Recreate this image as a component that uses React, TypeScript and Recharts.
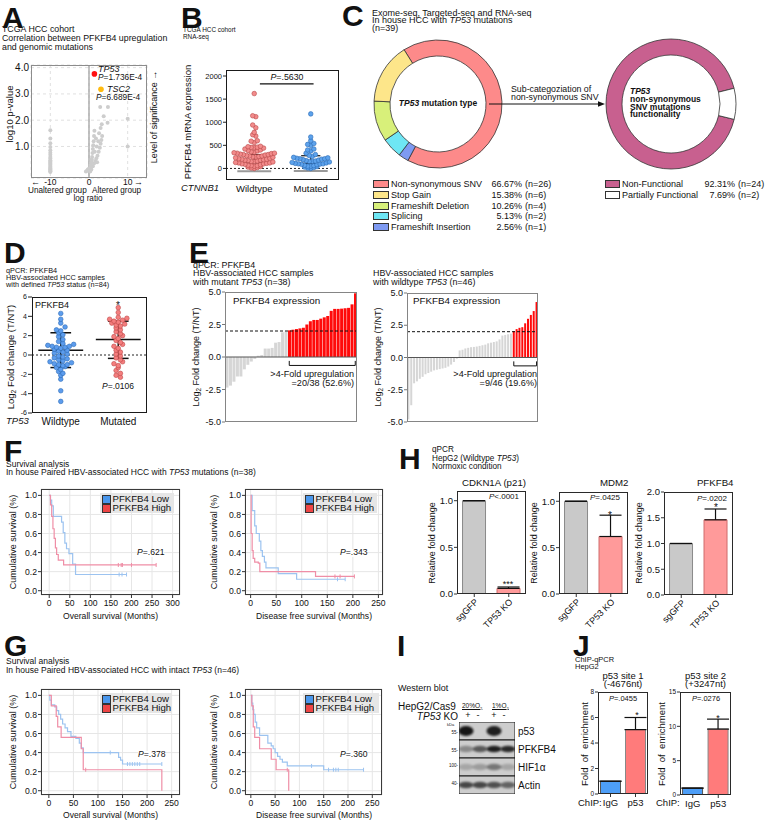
import React from "react";
import {
  ScatterChart,
  Scatter,
  BarChart,
  Bar,
  Cell,
  ErrorBar,
  PieChart,
  Pie,
  ComposedChart,
  Line,
  XAxis,
  YAxis,
  CartesianGrid,
  ReferenceLine,
  ReferenceArea,
} from "recharts";

const FONT = '"Liberation Sans", Arial, Helvetica, sans-serif';
const INK = "#111";

// ---- A: TCGA volcano (log ratio vs -log10 p) ----
const aColumnLogRatio = -10;
const aColumnP = [1.62, 1.3, 1.12, 0.98, 0.86, 0.76, 0.68, 0.6, 0.54, 0.48, 0.43, 0.38, 0.34, 0.3, 0.26, 0.22, 0.18, 0.15, 0.12, 0.09, 0.06, 0.03];
const aClusterLogRatio = [-0.8, -0.5, -0.3, 0, 0.2, 0.4, 0.5, 0.6, 0.7, 0.8, 0.9, 1.0, 1.1, 1.2, 1.3, 1.4, 1.0, 1.3, 1.6, 1.9, 2.2, 2.5, 2.8, 3.0, 3.2, 3.4, 2.0, 2.4, 1.8, 2.6, 3.0, 3.3, 3.8, 4.8, 2.9, 4.9, 10, 10, 0.3, 0.6, 1.5, 2.1];
const aClusterP = [0.05, 0.08, 0.12, 0.15, 0.1, 0.2, 0.3, 0.4, 0.5, 0.6, 0.75, 0.9, 1.05, 1.2, 1.4, 1.6, 0.25, 0.35, 0.45, 0.55, 0.65, 0.8, 0.95, 1.1, 1.25, 1.4, 1.0, 1.2, 1.3, 1.5, 1.7, 1.85, 2.15, 1.9, 2.5, 2.5, 2.05, 1.0, 0.05, 0.12, 0.8, 0.4];
const aHitGenes = ["TP53", "TSC2"];
const aHitLogRatio = [1.4, 3.1];
const aHitP = [1.736e-4, 6.689e-4];

// ---- B: CTNNB1 ----
const bGroups = ["Wildtype", "Mutated"];
const bWildtype = [1620, 1140, 1120, 940, 880, 780, 730, 700, 600, 590, 560, 480, 470, 460, 455, 450, 440, 420, 400, 390, 380, 360, 350, 340, 330, 330, 320, 310, 300, 300, 290, 280, 270, 270, 260, 250, 250, 240, 230, 220, 210, 200, 200, 190, 180, 180, 170, 160, 150, 150, 140, 130, 120, 120, 110, 100, 100, 90, 80, 70, 60, 60, 50, 40, 30, 20, 10, 0];
const bMutated = [1180, 680, 600, 540, 520, 500, 420, 400, 380, 330, 300, 280, 260, 240, 230, 220, 210, 210, 200, 190, 180, 170, 160, 150, 150, 140, 130, 120, 110, 100, 100, 95, 90, 80, 70, 60, 50, 50, 40, 30, 20, 10, 0];
const bMean = [120, 110];
const bSdHigh = [300, 275];
const bSdLow = [-60, -55];

// ---- C: mutation types ----
const cTypes = ["Non-synonymous SNV", "Stop Gain", "Frameshift Deletion", "Splicing", "Frameshift Insertion"];
const cCounts = [26, 6, 4, 2, 1];
const cTotal = 39;
const cPieOrder = [0, 4, 3, 2, 1];
const cFunc = ["Non-Functional", "Partially Functional"];
const cFuncCounts = [24, 2];

// ---- D: qPCR by TP53 status ----
const dGroups = ["Wildtype", "Mutated"];
const dWildtype = [4.3, 3.7, 3.3, 2.9, 2.6, 2.5, 2.3, 2.1, 1.9, 1.6, 1.4, 1.2, 1.1, 1.0, 0.9, 0.9, 0.8, 0.8, 0.7, 0.6, 0.5, 0.4, 0.3, 0.2, 0.1, -0.1, -0.2, -0.3, -0.4, -0.5, -0.6, -0.7, -0.8, -0.9, -1.0, -1.0, -1.1, -1.2, -1.3, -1.5, -1.7, -1.9, -2.1, -2.5, -3.7, -4.8];
const dMutated = [4.9, 4.4, 3.9, 3.8, 3.7, 3.6, 3.5, 3.4, 3.3, 3.2, 3.1, 3.0, 2.8, 2.6, 2.4, 2.2, 2.0, 1.9, 1.7, 1.5, 1.3, 1.1, 0.9, 0.7, 0.5, 0.3, 0.1, -0.1, -0.3, -0.5, -0.7, -0.9, -1.1, -1.3, -1.6, -1.9, -2.1, -2.3];
const dMean = [0.5, 1.6];
const dSdHigh = [2.3, 3.5];
const dSdLow = [-1.3, -0.35];

// ---- E: waterfalls ----
const eMutant = [-2.35, -2.2, -1.9, -1.5, -1.5, -0.95, -0.6, -0.35, -0.15, 0.1, 0.15, 0.65, 0.65, 0.7, 1.1, 1.15, 1.9, 1.95, 2.05, 2.1, 2.15, 2.2, 2.25, 2.5, 2.75, 2.85, 2.85, 2.95, 3.05, 3.15, 3.55, 3.7, 3.7, 3.72, 3.75, 3.78, 4.05, 4.9];
const eWildtype = [-4.8, -3.7, -2.0, -1.85, -1.65, -1.5, -1.3, -1.2, -1.1, -1.0, -0.95, -0.9, -0.85, -0.8, -0.7, -0.55, -0.35, -0.1, 0.55, 0.6, 0.7, 0.75, 0.8, 0.82, 0.85, 0.9, 0.95, 1.0, 1.1, 1.15, 1.2, 1.25, 1.4, 1.7, 1.75, 1.8, 1.85, 2.05, 2.2, 2.3, 2.35, 2.65, 3.0, 3.3, 3.6, 4.3];
const eThreshold = 2;

// ---- F / G: Kaplan-Meier ----
const fOsLowT = [0, 3, 6, 10, 30, 34, 38, 42, 48, 57, 64, 188];
const fOsLowS = [1, 0.95, 0.89, 0.78, 0.72, 0.61, 0.5, 0.44, 0.39, 0.28, 0.17, 0.17];
const fOsLowCens = [170, 177, 188];
const fOsHighT = [0, 3, 6, 9, 12, 15, 18, 22, 35, 260];
const fOsHighS = [1, 0.9, 0.78, 0.65, 0.55, 0.45, 0.38, 0.32, 0.27, 0.27];
const fOsHighCens = [168, 175, 178, 200, 260];

const fDfsLowT = [0, 3, 8, 11, 17, 20, 23, 27, 30, 54, 90, 185];
const fDfsLowS = [1, 0.84, 0.68, 0.6, 0.52, 0.42, 0.36, 0.3, 0.24, 0.18, 0.12, 0.12];
const fDfsLowCens = [170, 185];
const fDfsHighT = [0, 1, 3, 5, 8, 15, 18, 127, 203];
const fDfsHighS = [1, 0.6, 0.42, 0.34, 0.3, 0.29, 0.2, 0.15, 0.15];
const fDfsHighCens = [165, 175, 203];

const gOsLowT = [0, 2, 5, 12, 16, 20, 24, 28, 33, 38, 45, 55, 62, 66, 70, 142, 146, 150, 230];
const gOsLowS = [1, 0.95, 0.9, 0.88, 0.84, 0.8, 0.75, 0.7, 0.66, 0.62, 0.57, 0.55, 0.5, 0.45, 0.4, 0.35, 0.32, 0.28, 0.28];
const gOsLowCens = [125, 160, 165, 170, 175, 180, 185, 230];
const gOsHighT = [0, 5, 15, 18, 25, 66, 70, 230];
const gOsHighS = [1, 0.89, 0.78, 0.67, 0.56, 0.44, 0.22, 0];
const gOsHighCens = [75];

const gDfsLowT = [0, 2, 4, 6, 9, 12, 18, 35, 42, 46, 50, 55, 60, 65, 75, 150, 232];
const gDfsLowS = [1, 0.92, 0.85, 0.8, 0.72, 0.66, 0.58, 0.5, 0.47, 0.44, 0.4, 0.36, 0.33, 0.3, 0.26, 0.22, 0.22];
const gDfsLowCens = [125, 160, 170, 175, 180, 232];
const gDfsHighT = [0, 2, 5, 8, 18, 42, 52, 78];
const gDfsHighS = [1, 0.89, 0.67, 0.56, 0.44, 0.33, 0.22, 0];
const gDfsHighCens = [75];

const kmLegend = ["PFKFB4 Low", "PFKFB4 High"];

// ---- H: qPCR in HepG2 ----
const hGroups = ["sgGFP", "TP53 KO"];
const hCdkn = [1.0, 0.06];
const hCdknErr = [0, 0.015];
const hMdm2 = [1.0, 0.62];
const hMdm2Err = [0, 0.23];
const hPfk = [1.0, 1.46];
const hPfkErr = [0, 0.21];

// ---- I: western blot band intensity (0-1) ----
const iRows = ["p53", "PFKFB4", "HIF1α", "Actin"];
const iLanes = ["+", "-", "+", "-"];
const iBands = [
  [0.95, 0, 0.9, 0],
  [0.35, 0.6, 0.9, 0.85],
  [0.2, 0.25, 0.45, 0.2],
  [0.7, 0.7, 0.65, 0.55],
];

// ---- J: ChIP-qPCR ----
const jGroups = ["IgG", "p53"];
const jSite1 = [1.0, 5.05];
const jSite1Err = [0, 0.95];
const jSite2 = [1.0, 9.6];
const jSite2Err = [0, 1.45];

type Fr = { l: number; t: number; r: number; b: number };

function place(f: Fr, yw: number, xh: number, mt = 5, mr = 5, mb = 0) {
  return {
    style: { position: "absolute", left: f.l - yw, top: f.t - mt } as React.CSSProperties,
    width: yw + f.r - f.l + mr,
    height: mt + f.b - f.t + xh + mb,
    margin: { top: mt, right: mr, bottom: mb, left: 0 },
  };
}

// text placed by its baseline (y); lh = line-height factor
function Txt({ x, y, s = 9, b, i, a = "left", bg, lh = 0.9, children }: any) {
  const tx = a === "center" ? "-50%" : a === "right" ? "-100%" : "0";
  const top = y - ((lh - 1.117) / 2 + 0.905) * s;
  return (
    <div
      style={{
        position: "absolute",
        left: x,
        top,
        fontSize: s,
        lineHeight: lh,
        fontWeight: b ? 700 : 400,
        fontStyle: i ? "italic" : "normal",
        whiteSpace: "nowrap",
        transform: `translateX(${tx})`,
        background: bg,
      }}
    >
      {children}
    </div>
  );
}

function VTxt({ cx, cy, s = 9, children }: any) {
  return (
    <div
      style={{
        position: "absolute",
        left: cx,
        top: cy,
        fontSize: s,
        lineHeight: 0.9,
        whiteSpace: "nowrap",
        transform: "translate(-50%,-50%) rotate(-90deg)",
      }}
    >
      {children}
    </div>
  );
}

function Letter({ x, y, children }: any) {
  return (
    <Txt x={x} y={y} s={30} b lh={0.74}>
      {children}
    </Txt>
  );
}

function Box({ l, t, r, b, c = "#222", w = 1.3 }: any) {
  return (
    <div
      style={{
        position: "absolute",
        left: l,
        top: t,
        width: r - l,
        height: b - t,
        border: `${w}px solid ${c}`,
        boxSizing: "border-box",
        pointerEvents: "none",
      }}
    />
  );
}

const Log2 = () => (
  <>
    Log<span style={{ fontSize: "0.7em", verticalAlign: "-0.25em" }}>2</span> Fold change (T/NT)
  </>
);

const dot = (r: number, fill: string, stroke: string, sw = 0.6) => (p: any) => (
  <circle cx={p.cx} cy={p.cy} r={r} fill={fill} stroke={stroke} strokeWidth={sw} />
);

// simple beeswarm: points of similar value are spread sideways around the group centre
function swarm(vals: number[], center: number, bin: number, step: number) {
  const sorted = [...vals].sort((a, b) => a - b);
  const counts: Record<number, number> = {};
  const seen: Record<number, number> = {};
  sorted.forEach((v) => {
    const k = Math.round(v / bin);
    counts[k] = (counts[k] || 0) + 1;
  });
  return sorted.map((v) => {
    const k = Math.round(v / bin);
    const i = seen[k] || 0;
    seen[k] = i + 1;
    const n = counts[k];
    const off = i % 2 === 0 ? i / 2 : -(i + 1) / 2;
    const shift = n % 2 === 0 ? 0.5 : 0;
    return { x: center + (off + shift) * step, y: v };
  });
}

function PanelA() {
  const fr = { l: 31, t: 65, r: 147, b: 178 };
  const p = place(fr, 28, 16);
  const grey = [
    ...aColumnP.map((y) => ({ x: aColumnLogRatio, y })),
    ...aClusterLogRatio.map((x, i) => ({ x, y: aClusterP[i] })),
  ];
  const hits = aHitGenes.map((g, i) => ({ x: aHitLogRatio[i], y: -Math.log10(aHitP[i]), g }));
  return (
    <>
      <Letter x={2} y={28}>A</Letter>
      <Txt x={2} y={33.5} s={8.8}>TCGA HCC cohort</Txt>
      <Txt x={2} y={42.5} s={8.8}>Correlation between PFKFB4 upregulation</Txt>
      <Txt x={2} y={51.3} s={8.8}>and genomic mutations</Txt>
      <div style={p.style}>
        <ScatterChart width={p.width} height={p.height} margin={p.margin}>
          <CartesianGrid strokeDasharray="3 3" stroke="#e0e0e0" />
          <XAxis type="number" dataKey="x" domain={[-15, 15]} ticks={[-10, 0, 10]} interval={0} allowDataOverflow axisLine={false} tickLine={false} tickSize={0} tickMargin={1} height={16} tick={{ fontSize: 8.5, fill: INK }} />
          <YAxis type="number" dataKey="y" domain={[-0.2, 4.1]} ticks={[1, 2, 3, 4]} interval={0} allowDataOverflow tickFormatter={(v: number) => v.toFixed(1)} axisLine={false} tickLine={false} tickSize={0} tickMargin={2} width={28} tick={{ fontSize: 10, fill: INK }} />
          <ReferenceLine x={0} stroke="#9a9a9a" strokeWidth={1.2} />
          <Scatter data={grey} isAnimationActive={false} shape={dot(2, "#cdcdcd", "none", 0)} />
          <Scatter data={[hits[0]]} isAnimationActive={false} shape={dot(2.8, "#ff1010", "none", 0)} />
          <Scatter data={[hits[1]]} isAnimationActive={false} shape={dot(2.8, "#ffbb10", "none", 0)} />
        </ScatterChart>
      </div>
      <Box {...fr} c="#8c8c8c" w={1.2} />
      <Txt x={98} y={72.5} s={9} i>{aHitGenes[0]}</Txt>
      <Txt x={98} y={81} s={8.3}><i>P</i>=1.736E-4</Txt>
      <Txt x={107} y={91.7} s={9} i>{aHitGenes[1]}</Txt>
      <Txt x={96} y={100.7} s={8.3}><i>P</i>=6.689E-4</Txt>
      <VTxt cx={10} cy={114} s={9.5}>log10 p-value</VTxt>
      <VTxt cx={154} cy={117} s={9}>Level of significance →</VTxt>
      <Txt x={31} y={185.5} s={9}>←</Txt>
      <Txt x={134} y={185.5} s={9}>→</Txt>
      <Txt x={28} y={194} s={8.2}>Unaltered group</Txt>
      <Txt x={92} y={194} s={8.2}>Altered group</Txt>
      <Txt x={88} y={202} s={8.2} a="center">log ratio</Txt>
    </>
  );
}

function PanelB() {
  const fr = { l: 226, t: 70, r: 339, b: 180 };
  const p = place(fr, 30, 20);
  const wt = swarm(bWildtype, 1, 100, 0.055);
  const mut = swarm(bMutated, 2, 100, 0.055);
  return (
    <>
      <Letter x={181} y={28}>B</Letter>
      <Txt x={183} y={32.5} s={6.4}>TCGA HCC cohort</Txt>
      <Txt x={183} y={39} s={6.4}>RNA-seq</Txt>
      <div style={p.style}>
        <ScatterChart width={p.width} height={p.height} margin={p.margin}>
          <XAxis type="number" dataKey="x" domain={[0.5, 2.5]} ticks={[1, 2]} interval={0} tickFormatter={(v: number) => bGroups[v - 1]} allowDataOverflow axisLine={false} tickLine={false} tickSize={0} tickMargin={5} height={20} tick={{ fontSize: 9.5, fill: INK }} />
          <YAxis type="number" dataKey="y" domain={[-250, 2130]} ticks={[0, 500, 1000, 1500, 2000]} interval={0} allowDataOverflow axisLine={false} tickSize={3} tickMargin={1} width={30} tickLine={{ stroke: "#222" }} tick={{ fontSize: 7.5, fill: INK }} />
          <ReferenceLine y={0} stroke="#222" strokeDasharray="2 2" />
          {[1, 2].map((c, i) => (
            <ReferenceLine key={"g" + c} segment={[{ x: c - 0.3, y: bSdLow[i] }, { x: c + 0.3, y: bSdLow[i] }]} stroke="#9a9a9a" strokeWidth={2} />
          ))}
          <Scatter data={wt} isAnimationActive={false} shape={dot(2.3, "#f28b8b", "#b84848")} />
          <Scatter data={mut} isAnimationActive={false} shape={dot(2.3, "#5ca2ec", "#2c6cb5")} />
          {[1, 2].map((c, i) => (
            <ReferenceLine key={"m" + c} segment={[{ x: c - 0.33, y: bMean[i] }, { x: c + 0.33, y: bMean[i] }]} stroke="#111" strokeWidth={1.4} />
          ))}
          {[1, 2].map((c, i) => (
            <ReferenceLine key={"v" + c} segment={[{ x: c, y: bMean[i] }, { x: c, y: bSdHigh[i] }]} stroke="#111" strokeWidth={1.2} />
          ))}
          {[1, 2].map((c, i) => (
            <ReferenceLine key={"h" + c} segment={[{ x: c - 0.17, y: bSdHigh[i] }, { x: c + 0.17, y: bSdHigh[i] }]} stroke="#111" strokeWidth={1.2} />
          ))}
          <ReferenceLine segment={[{ x: 1.1, y: 1830 }, { x: 2.05, y: 1830 }]} stroke="#111" strokeWidth={1.3} />
        </ScatterChart>
      </div>
      <Box {...fr} c="#1a1a1a" w={1.5} />
      <Txt x={287} y={81} s={8.8} a="center"><i>P</i>=.5630</Txt>
      <VTxt cx={188} cy={122} s={9.5}>PFKFB4 mRNA expression</VTxt>
      <Txt x={181} y={192} s={9.5} i>CTNNB1</Txt>
    </>
  );
}

function PanelC() {
  const cColors = ["#fd8a8a", "#fde68a", "#d8f07a", "#6ee6f4", "#7e9af2"];
  const fColors = ["#c8608f", "#ffffff"];
  const pieData = cPieOrder.map((k) => ({ name: cTypes[k], n: cCounts[k], k }));
  const funcData = cFunc.map((name, i) => ({ name, n: cFuncCounts[i] }));
  const funcTotal = cFuncCounts.reduce((a, b) => a + b, 0);
  const pct = (n: number, tot: number) => ((n / tot) * 100).toFixed(2);
  return (
    <>
      <Letter x={342} y={26}>C</Letter>
      <Txt x={372} y={15.7} s={9}>Exome-seq, Targeted-seq and RNA-seq</Txt>
      <Txt x={372} y={23.5} s={9}>In house HCC with <i>TP53</i> mutations</Txt>
      <Txt x={372} y={31.2} s={9}>(n={cTotal})</Txt>
      <div style={{ position: "absolute", left: 368, top: 34 }}>
        <PieChart width={140} height={140} margin={{ top: 0, right: 0, bottom: 0, left: 0 }}>
          <Pie data={pieData} dataKey="n" cx={70} cy={70} innerRadius={48} outerRadius={64} startAngle={122} endAngle={-238} stroke="#333" strokeWidth={0.8} isAnimationActive={false}>
            {pieData.map((d) => (
              <Cell key={d.name} fill={cColors[d.k]} />
            ))}
          </Pie>
        </PieChart>
      </div>
      <div style={{ position: "absolute", left: 601, top: 34 }}>
        <PieChart width={140} height={140} margin={{ top: 0, right: 0, bottom: 0, left: 0 }}>
          <Pie data={funcData} dataKey="n" cx={70} cy={70} innerRadius={49} outerRadius={65} startAngle={14} endAngle={374} stroke="#333" strokeWidth={0.8} isAnimationActive={false}>
            {funcData.map((d, i) => (
              <Cell key={d.name} fill={fColors[i]} />
            ))}
          </Pie>
        </PieChart>
      </div>
      <Txt x={438} y={107} s={8.5} b a="center"><i>TP53</i> mutation type</Txt>
      <Txt x={630} y={95} s={8.5} b i>TP53</Txt>
      <Txt x={630} y={102.7} s={8.5} b>non-synonymous</Txt>
      <Txt x={630} y={110.3} s={8.5} b>SNV mutations</Txt>
      <Txt x={630} y={118} s={8.5} b>functionality</Txt>
      <svg style={{ position: "absolute", left: 488, top: 99 }} width={120} height={10}>
        <line x1={1} y1={5} x2={112} y2={5} stroke="#111" strokeWidth={1} />
        <polygon points="117,5 110,2.2 110,7.8" fill="#111" />
      </svg>
      <Txt x={511} y={93} s={8.8}>Sub-categoziation of</Txt>
      <Txt x={511} y={101} s={8.8}>non-synonymous SNV</Txt>
      {cTypes.map((name, i) => {
        const y = 184.3 + i * 10.7;
        return (
          <React.Fragment key={name}>
            <div style={{ position: "absolute", left: 373, top: y - 4, width: 16, height: 8, background: cColors[i], border: "1px solid #333", boxSizing: "border-box" }} />
            <Txt x={391} y={y + 3.2} s={9}>{name}</Txt>
            <Txt x={522} y={y + 3.2} s={9} a="right">{pct(cCounts[i], cTotal)}%</Txt>
            <Txt x={525} y={y + 3.2} s={9}>(n={cCounts[i]})</Txt>
          </React.Fragment>
        );
      })}
      {cFunc.map((name, i) => {
        const y = 184.3 + i * 10.7;
        return (
          <React.Fragment key={name}>
            <div style={{ position: "absolute", left: 605, top: y - 4, width: 15, height: 8, background: fColors[i], border: "1px solid #333", boxSizing: "border-box" }} />
            <Txt x={622} y={y + 3.2} s={9}>{name}</Txt>
            <Txt x={735} y={y + 3.2} s={9} a="right">{pct(cFuncCounts[i], funcTotal)}%</Txt>
            <Txt x={738} y={y + 3.2} s={9}>(n={cFuncCounts[i]})</Txt>
          </React.Fragment>
        );
      })}
    </>
  );
}

function PanelD() {
  const fr = { l: 32, t: 297, r: 147, b: 413 };
  const p = place(fr, 24, 16);
  const wt = swarm(dWildtype, 1, 0.45, 0.075);
  const mut = swarm(dMutated, 2, 0.45, 0.075);
  return (
    <>
      <Letter x={4} y={263}>D</Letter>
      <Txt x={6} y={274} s={7.3}>qPCR: PFKFB4</Txt>
      <Txt x={6} y={280.8} s={7.3}>HBV-associated HCC samples</Txt>
      <Txt x={6} y={287.5} s={7.3}>with defined <i>TP53</i> status (n=84)</Txt>
      <div style={p.style}>
        <ScatterChart width={p.width} height={p.height} margin={p.margin}>
          <XAxis type="number" dataKey="x" domain={[0.5, 2.5]} ticks={[1, 2]} interval={0} tickFormatter={(v: number) => dGroups[v - 1]} allowDataOverflow axisLine={false} tickLine={false} tickSize={0} tickMargin={5} height={16} tick={{ fontSize: 10, fill: INK }} />
          <YAxis type="number" dataKey="y" domain={[-6, 6]} ticks={[-6, -4, -2, 0, 2, 4, 6]} interval={0} allowDataOverflow axisLine={false} tickSize={4} tickMargin={1} width={24} tickLine={{ stroke: "#222" }} tick={{ fontSize: 7, fill: INK }} />
          <ReferenceLine y={0} stroke="#222" strokeDasharray="2 2" />
          <Scatter data={wt} isAnimationActive={false} shape={dot(2.3, "#5c9ced", "#2d6db9")} />
          <Scatter data={mut} isAnimationActive={false} shape={dot(2.3, "#f47e7e", "#c04848")} />
          {[1, 2].map((c, i) => (
            <ReferenceLine key={"m" + c} segment={[{ x: c - 0.39, y: dMean[i] }, { x: c + 0.39, y: dMean[i] }]} stroke="#111" strokeWidth={1.5} />
          ))}
          {[1, 2].map((c, i) => (
            <ReferenceLine key={"v" + c} segment={[{ x: c, y: dSdLow[i] }, { x: c, y: dSdHigh[i] }]} stroke="#111" strokeWidth={1.5} />
          ))}
          {[1, 2].map((c, i) => (
            <ReferenceLine key={"h" + c} segment={[{ x: c - 0.18, y: dSdHigh[i] }, { x: c + 0.18, y: dSdHigh[i] }]} stroke="#111" strokeWidth={1.5} />
          ))}
          {[1, 2].map((c, i) => (
            <ReferenceLine key={"l" + c} segment={[{ x: c - 0.18, y: dSdLow[i] }, { x: c + 0.18, y: dSdLow[i] }]} stroke="#111" strokeWidth={1.5} />
          ))}
        </ScatterChart>
      </div>
      <Box {...fr} c="#1a1a1a" w={1.5} />
      <Txt x={35} y={308.5} s={9}>PFKFB4</Txt>
      <Txt x={118} y={309} s={10} a="center">*</Txt>
      <Txt x={118} y={390} s={8.5} a="center"><i>P</i>=.0106</Txt>
      <VTxt cx={12} cy={357} s={9.5}><Log2 /></VTxt>
      <Txt x={6} y={425} s={9.5} i>TP53</Txt>
    </>
  );
}

function Waterfall({ vals, fr }: { vals: number[]; fr: Fr }) {
  const p = place(fr, 26, 0, 6, 4, 6);
  const data = vals.map((v, i) => ({ i, v }));
  const hi = data.filter((d) => d.v >= eThreshold);
  const first = hi[0].i;
  const last = hi[hi.length - 1].i;
  return (
    <>
      <div style={p.style}>
        <BarChart width={p.width} height={p.height} margin={p.margin} data={data} barCategoryGap="14%">
          <XAxis dataKey="i" hide height={0} />
          <YAxis type="number" domain={[-5, 5]} ticks={[-5, -2.5, 0, 2.5, 5]} interval={0} tickFormatter={(v: number) => v.toFixed(1)} allowDataOverflow axisLine={false} tickSize={3} tickMargin={1} width={26} tickLine={{ stroke: "#777" }} tick={{ fontSize: 9, fill: INK }} />
          <Bar dataKey="v" isAnimationActive={false}>
            {data.map((d) => (
              <Cell key={d.i} fill={d.v >= eThreshold ? "#ff0a0a" : "#d6d6d6"} />
            ))}
          </Bar>
          <ReferenceLine y={0} stroke="#555" />
          <ReferenceLine y={eThreshold} stroke="#111" strokeDasharray="3 2" />
          <ReferenceLine segment={[{ x: first, y: -0.65 }, { x: last, y: -0.65 }]} stroke="#111" />
          <ReferenceLine segment={[{ x: first, y: -0.65 }, { x: first, y: -0.3 }]} stroke="#111" />
          <ReferenceLine segment={[{ x: last, y: -0.65 }, { x: last, y: -0.3 }]} stroke="#111" />
        </BarChart>
      </div>
      <Box {...fr} c="#858585" w={1.2} />
    </>
  );
}

function PanelE() {
  const up = (v: number[]) => v.filter((x) => x >= eThreshold).length;
  const pct = (v: number[]) => ((up(v) / v.length) * 100).toFixed(1);
  return (
    <>
      <Letter x={189} y={263}>E</Letter>
      <Txt x={193} y={267.8} s={8.9}>qPCR: PFKFB4</Txt>
      <Txt x={193} y={276.5} s={8.9}>HBV-associated HCC samples</Txt>
      <Txt x={193} y={285} s={8.9}>with mutant <i>TP53</i> (n={eMutant.length})</Txt>
      <Txt x={373} y={276.5} s={8.9}>HBV-associated HCC samples</Txt>
      <Txt x={373} y={285} s={8.9}>with wildtype <i>TP53</i> (n={eWildtype.length})</Txt>
      <Waterfall vals={eMutant} fr={{ l: 225, t: 292, r: 357, b: 422 }} />
      <Waterfall vals={eWildtype} fr={{ l: 407, t: 293, r: 538, b: 422 }} />
      <Txt x={233} y={305} s={9.8}>PFKFB4 expression</Txt>
      <Txt x={413} y={305} s={9.8}>PFKFB4 expression</Txt>
      <Txt x={354} y={377} s={9.1} a="right">&gt;4-Fold upregulation</Txt>
      <Txt x={354} y={386} s={9.1} a="right">={up(eMutant)}/{eMutant.length} ({pct(eMutant)}%)</Txt>
      <Txt x={537} y={377} s={9.1} a="right">&gt;4-Fold upregulation</Txt>
      <Txt x={537} y={386} s={9.1} a="right">={up(eWildtype)}/{eWildtype.length} ({pct(eWildtype)}%)</Txt>
      <VTxt cx={197} cy={357} s={9}><Log2 /></VTxt>
      <VTxt cx={378.5} cy={357} s={9}><Log2 /></VTxt>
    </>
  );
}

function stepAt(t: number[], s: number[], at: number) {
  let v = s[0];
  t.forEach((x, i) => {
    if (x <= at) v = s[i];
  });
  return v;
}

function KM({ fr, dom, ticks, low, high, legX, legW }: any) {
  const p = place(fr, 28, 16);
  const curves = [low, high];
  const lineCol = ["#9cc3f0", "#ef8ea6"];
  return (
    <>
      <div style={p.style}>
        <ComposedChart width={p.width} height={p.height} margin={p.margin}>
          <CartesianGrid stroke="#e6e6e6" />
          <XAxis type="number" dataKey="t" domain={dom} ticks={ticks} interval={0} allowDataOverflow axisLine={false} tickSize={3} tickMargin={2} height={16} tickLine={{ stroke: "#333" }} tick={{ fontSize: 8.6, fill: INK }} />
          <YAxis type="number" dataKey="s" domain={[-0.045, 1.067]} ticks={[0, 0.2, 0.4, 0.6, 0.8, 1.0]} interval={0} tickFormatter={(v: number) => v.toFixed(1)} allowDataOverflow axisLine={false} tickSize={3} tickMargin={1} width={28} tickLine={{ stroke: "#333" }} tick={{ fontSize: 8.6, fill: INK }} />
          {curves.map((c: any, k: number) => (
            <Line
              key={"l" + k}
              data={c.t.map((t: number, i: number) => ({ t, s: c.s[i] }))}
              dataKey="s"
              type="stepAfter"
              stroke={lineCol[k]}
              strokeWidth={1.2}
              dot={false}
              isAnimationActive={false}
            />
          ))}
          {curves.map((c: any, k: number) => (
            <Scatter
              key={"c" + k}
              data={c.cens.map((t: number) => ({ t, s: stepAt(c.t, c.s, t) }))}
              isAnimationActive={false}
              shape={(q: any) => <line x1={q.cx} x2={q.cx} y1={q.cy - 2} y2={q.cy + 2} stroke={lineCol[k]} strokeWidth={1} />}
            />
          ))}
        </ComposedChart>
      </div>
      <Box {...fr} c="#3a3a3a" w={1.4} />
      <div style={{ position: "absolute", left: legX, top: fr.t + 4, width: legW, height: 20, background: "#e6e6e6" }}>
        {kmLegend.map((name, i) => (
          <div key={name} style={{ position: "absolute", left: 2, top: 1.5 + i * 9.2, display: "flex", alignItems: "center", fontSize: 9.6, lineHeight: 0.9, whiteSpace: "nowrap" }}>
            <span style={{ display: "inline-block", width: 7, height: 7, background: i === 0 ? "#4a97ec" : "#ee4545", border: "1px solid #333", marginRight: 1.5 }} />
            {name}
          </div>
        ))}
      </div>
    </>
  );
}

function PanelFG() {
  const cv = (t: number[], s: number[], cens: number[]) => ({ t, s, cens });
  return (
    <>
      <Letter x={4} y={461}>F</Letter>
      <Txt x={6} y={467.5} s={8.5}>Survival analysis</Txt>
      <Txt x={6} y={476} s={8.5}>In house Paired HBV-associated HCC with <i>TP53</i> mutations (n=38)</Txt>
      <KM fr={{ l: 41, t: 489, r: 180, b: 595 }} dom={[-20, 318]} ticks={[0, 50, 100, 150, 200, 250, 300]} low={cv(fOsLowT, fOsLowS, fOsLowCens)} high={cv(fOsHighT, fOsHighS, fOsHighCens)} legX={100} legW={74} />
      <KM fr={{ l: 245, t: 489, r: 383, b: 595 }} dom={[-11, 259]} ticks={[0, 50, 100, 150, 200, 250]} low={cv(fDfsLowT, fDfsLowS, fDfsLowCens)} high={cv(fDfsHighT, fDfsHighS, fDfsHighCens)} legX={303} legW={74} />
      <Txt x={137} y={556} s={8.6} bg="#fff"><i>P</i>=.621</Txt>
      <Txt x={340} y={556} s={8.6} bg="#fff"><i>P</i>=.343</Txt>
      <VTxt cx={13} cy={542} s={9}>Cumulative survival (%)</VTxt>
      <VTxt cx={213.5} cy={542} s={9}>Cumulative survival (%)</VTxt>
      <Txt x={110.5} y={620} s={8.6} a="center">Overall survival (Months)</Txt>
      <Txt x={314} y={620} s={8.6} a="center">Disease free survival (Months)</Txt>

      <Letter x={4} y={656}>G</Letter>
      <Txt x={6} y={665} s={8.5}>Survival analysis</Txt>
      <Txt x={6} y={673.5} s={8.5}>In house Paired HBV-associated HCC with intact <i>TP53</i> (n=46)</Txt>
      <KM fr={{ l: 41, t: 689, r: 180, b: 795 }} dom={[-16, 267]} ticks={[0, 50, 100, 150, 200, 250]} low={cv(gOsLowT, gOsLowS, gOsLowCens)} high={cv(gOsHighT, gOsHighS, gOsHighCens)} legX={100} legW={72} />
      <KM fr={{ l: 245, t: 689, r: 382, b: 795 }} dom={[-12, 270]} ticks={[0, 50, 100, 150, 200, 250]} low={cv(gDfsLowT, gDfsLowS, gDfsLowCens)} high={cv(gDfsHighT, gDfsHighS, gDfsHighCens)} legX={303} legW={76} />
      <Txt x={138} y={758} s={8.6} bg="#fff"><i>P</i>=.378</Txt>
      <Txt x={340} y={758} s={8.6} bg="#fff"><i>P</i>=.360</Txt>
      <VTxt cx={13} cy={742} s={9}>Cumulative survival (%)</VTxt>
      <VTxt cx={213.5} cy={742} s={9}>Cumulative survival (%)</VTxt>
      <Txt x={110.5} y={819} s={8.6} a="center">Overall survival (Months)</Txt>
      <Txt x={314} y={819} s={8.6} a="center">Disease free survival (Months)</Txt>
    </>
  );
}

function Pair({ fr, groups, vals, errs, dom, ticks, fills, strokes, yw, xh, angled, tickFs, fmt, gap }: any) {
  const p = place(fr, yw, xh);
  const data = groups.map((g: string, i: number) => ({ g, v: vals[i], e: [0, errs[i]] }));
  return (
    <>
      <div style={p.style}>
        <BarChart width={p.width} height={p.height} margin={p.margin} data={data} barCategoryGap={gap}>
          {angled ? (
            <XAxis dataKey="g" angle={-45} textAnchor="end" interval={0} tickSize={3} tickMargin={1} height={xh} axisLine={false} tickLine={{ stroke: "#333" }} tick={{ fontSize: 9, fill: INK }} />
          ) : (
            <XAxis dataKey="g" interval={0} tickSize={3} tickMargin={2} height={xh} axisLine={false} tickLine={{ stroke: "#333" }} tick={{ fontSize: 9.5, fill: INK }} />
          )}
          <YAxis type="number" domain={dom} ticks={ticks} interval={0} tickFormatter={fmt} allowDataOverflow axisLine={false} tickSize={3} tickMargin={1} width={yw} tickLine={{ stroke: "#333" }} tick={{ fontSize: tickFs, fill: INK }} />
          <Bar dataKey="v" isAnimationActive={false} strokeWidth={1}>
            {data.map((d: any, i: number) => (
              <Cell key={d.g} fill={fills[i]} stroke={strokes[i]} />
            ))}
            <ErrorBar dataKey="e" width={11} stroke="#111" strokeWidth={1.2} direction="y" />
          </Bar>
        </BarChart>
      </div>
      <Box {...fr} c="#2a2a2a" w={1.4} />
    </>
  );
}

function PanelH() {
  const fills = ["#c9c9c9", "#ff9a9a"];
  const strokes = ["#8a8a8a", "#d06a6a"];
  const f1 = (v: number) => v.toFixed(1);
  const common = { groups: hGroups, fills, strokes, yw: 24, xh: 36, angled: true, tickFs: 9.5, fmt: f1, gap: "16%" };
  return (
    <>
      <Letter x={399} y={469}>H</Letter>
      <Txt x={432} y={452.7} s={8.2}>qPCR</Txt>
      <Txt x={432} y={461.3} s={8.2}>HepG2 (Wildtype <i>TP53</i>)</Txt>
      <Txt x={432} y={469.5} s={8.2}>Normoxic condition</Txt>
      <Pair {...common} fr={{ l: 457, t: 491, r: 526, b: 594 }} vals={hCdkn} errs={hCdknErr} dom={[0, 1.104]} ticks={[0, 0.5, 1.0]} />
      <Pair {...common} fr={{ l: 559, t: 492, r: 628, b: 594 }} vals={hMdm2} errs={hMdm2Err} dom={[0, 1.1]} ticks={[0, 0.5, 1.0]} />
      <Pair {...common} fr={{ l: 664, t: 492, r: 733, b: 595 }} vals={hPfk} errs={hPfkErr} dom={[0, 2.0]} ticks={[0, 0.5, 1.0, 1.5, 2.0]} />
      <Txt x={526} y={487} s={9.7} a="right">CDKN1A (p21)</Txt>
      <Txt x={628.5} y={487} s={9.7} a="right">MDM2</Txt>
      <Txt x={733.5} y={487} s={9.7} a="right">PFKFB4</Txt>
      <Txt x={519} y={499.5} s={8} a="right"><i>P</i>&lt;.0001</Txt>
      <Txt x={620} y={500} s={8} a="right"><i>P</i>=.0425</Txt>
      <Txt x={727} y={501.5} s={8} a="right"><i>P</i>=.0202</Txt>
      <Txt x={508} y={587} s={9} a="center">***</Txt>
      <Txt x={610} y={519} s={10} a="center">*</Txt>
      <Txt x={716} y={511} s={10} a="center">*</Txt>
      <VTxt cx={432} cy={543} s={9}>Relative fold change</VTxt>
      <VTxt cx={534} cy={543} s={9}>Relative fold change</VTxt>
      <VTxt cx={639} cy={543} s={9}>Relative fold change</VTxt>
    </>
  );
}

function PanelI() {
  const fr = { l: 459, t: 722, r: 515, b: 794 };
  const n = iRows.length;
  const bands = iBands.flatMap((row, r) => row.map((v, l) => ({ x: l + 1, y: n - r - 0.5, v, r })));
  const laneX = [468, 478, 494, 504];
  return (
    <>
      <Letter x={397} y={656}>I</Letter>
      <Txt x={398} y={691} s={9}>Western blot</Txt>
      <Txt x={398} y={710} s={10}>HepG2/Cas9</Txt>
      <Txt x={458} y={719.5} s={10} a="right"><i>TP53</i> KO</Txt>
      <Txt x={462} y={708.5} s={6.5}><span style={{ textDecoration: "underline" }}>20%O<sub style={{ fontSize: "0.6em" }}>2</sub></span></Txt>
      <Txt x={492} y={708.5} s={6.5}><span style={{ textDecoration: "underline" }}>1%O<sub style={{ fontSize: "0.6em" }}>2</sub></span></Txt>
      {iLanes.map((s, i) => (
        <Txt key={i} x={laneX[i]} y={718.5} s={9} a="center">{s}</Txt>
      ))}
      <div style={{ position: "absolute", left: fr.l, top: fr.t }}>
        <ScatterChart width={fr.r - fr.l} height={fr.b - fr.t} margin={{ top: 0, right: 0, bottom: 0, left: 0 }}>
          <XAxis type="number" dataKey="x" domain={[0.5, 4.5]} hide height={0} />
          <YAxis type="number" dataKey="y" domain={[0, n]} hide width={0} />
          {iRows.map((name, r) => (
            <ReferenceArea key={name} x1={0.5} x2={4.5} y1={n - r - 1} y2={n - r} fill="#cdcdcd" fillOpacity={1} stroke="#1a1a1a" strokeWidth={1} />
          ))}
          <Scatter
            data={bands}
            isAnimationActive={false}
            shape={(q: any) => (
              <ellipse cx={q.cx} cy={q.cy} rx={7.5} ry={q.payload.r === 0 ? 5 : 3.2} fill="#0d0d0d" opacity={q.payload.v} style={{ filter: "blur(0.9px)" }} />
            )}
          />
        </ScatterChart>
      </div>
      {iRows.map((name, r) => (
        <Txt key={name} x={518} y={fr.t + 13 + r * 18} s={10}>{name}</Txt>
      ))}
      <Txt x={447} y={726.5} s={4}>kDa</Txt>
      <Txt x={458} y={735} s={4.5} a="right">55-</Txt>
      <Txt x={458} y={752.5} s={4.5} a="right">55-</Txt>
      <Txt x={458} y={768} s={4.5} a="right">100-</Txt>
      <Txt x={458} y={786} s={4.5} a="right">40-</Txt>
    </>
  );
}

function PanelJ() {
  const fills = ["#4d9ef7", "#ff7b7b"];
  const strokes = ["#555", "#888"];
  const f0 = (v: number) => String(v);
  const common = { groups: jGroups, fills, strokes, yw: 16, xh: 16, angled: false, tickFs: 6.5, fmt: f0, gap: "10%" };
  return (
    <>
      <Letter x={573} y={656}>J</Letter>
      <Txt x={575} y={662.5} s={7.5}>ChIP-qPCR</Txt>
      <Txt x={575} y={669.5} s={7.5}>HepG2</Txt>
      <Pair {...common} fr={{ l: 598, t: 692, r: 648, b: 794 }} vals={jSite1} errs={jSite1Err} dom={[0, 8]} ticks={[0, 2, 4, 6, 8]} />
      <Pair {...common} fr={{ l: 680, t: 692, r: 731, b: 795 }} vals={jSite2} errs={jSite2Err} dom={[0, 15]} ticks={[0, 5, 10, 15]} />
      <Txt x={623} y={679.5} s={9.5} a="center">p53 site 1</Txt>
      <Txt x={623} y={687.5} s={9.5} a="center">(-4676nt)</Txt>
      <Txt x={705.5} y={679.5} s={9.5} a="center">p53 site 2</Txt>
      <Txt x={705.5} y={687.5} s={9.5} a="center">(+3247nt)</Txt>
      <Txt x={623} y={702} s={7.5} a="center"><i>P</i>=.0455</Txt>
      <Txt x={706} y={702} s={7.5} a="center"><i>P</i>=.0276</Txt>
      <Txt x={637} y={718} s={9} a="center">*</Txt>
      <Txt x={718} y={721.5} s={9} a="center">*</Txt>
      <Txt x={578} y={806.5} s={9.5}>ChIP:</Txt>
      <Txt x={656} y={806.5} s={9.5}>ChIP:</Txt>
      <VTxt cx={585} cy={744} s={9.5}>Fold&nbsp; of&nbsp; enrichment</VTxt>
      <VTxt cx={662} cy={744} s={9.5}>Fold&nbsp; of&nbsp; enrichment</VTxt>
    </>
  );
}

export default function App() {
  return (
    <div
      style={{
        position: "absolute",
        left: 0,
        top: 0,
        width: 766,
        height: 823,
        overflow: "hidden",
        background: "#fff",
        color: INK,
        fontFamily: FONT,
        lineHeight: 1,
      }}
    >
      <PanelA />
      <PanelB />
      <PanelC />
      <PanelD />
      <PanelE />
      <PanelFG />
      <PanelH />
      <PanelI />
      <PanelJ />
    </div>
  );
}
